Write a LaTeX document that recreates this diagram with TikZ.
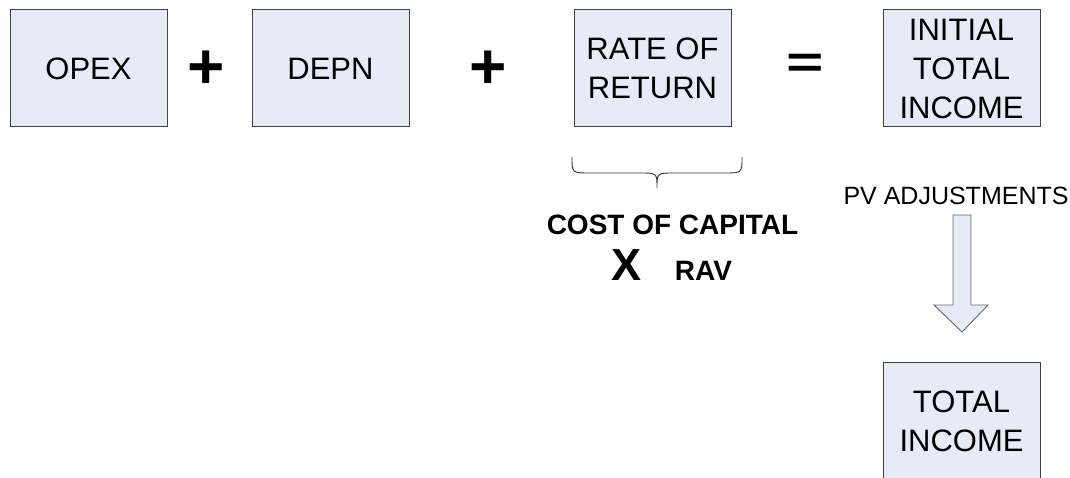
\documentclass[tikz,border=0pt]{standalone}
\usepackage{fontspec}
\setmainfont{Liberation Sans}
\begin{document}
\begin{tikzpicture}[x=1pt,y=-1pt,
  termbox/.style={draw=boxline, fill=boxfill, line width=1pt,
    minimum width=157pt, minimum height=117pt, inner sep=0pt,
    align=center, font=\fontsize{31}{39}\selectfont},
  opsign/.style={inner sep=0pt, font=\bfseries\fontsize{64}{64}\selectfont},
  caption/.style={inner sep=0pt, anchor=base}]
\definecolor{boxfill}{HTML}{E6ECF7}
\definecolor{boxline}{HTML}{404040}
\definecolor{bracecol}{HTML}{333333}
\clip (0,0) rectangle (1070,478);
\useasboundingbox (0,0) rectangle (1070,478);

% the income equation
\node[termbox] (opex) at (88.5,68.5) {OPEX};
\node[termbox] (depn) at (330.5,68.5) {DEPN};
\node[termbox] (ror)  at (652.5,68.5) {RATE OF\\RETURN};
\node[termbox] (iti)  at (961.5,68.5) {INITIAL\\TOTAL\\INCOME};
\node[termbox, minimum height=118pt] (ti) at (961.5,421) {TOTAL\\INCOME};

\node[opsign] (plusa) at (206,70) {+};
\node[opsign] (plusb) at (488,70) {+};
\node[opsign] (eq)    at (805,65.5) {\scalebox{1}[0.7]{=}};

% brace under the rate of return
\draw[bracecol, line width=0.9pt]
  (572,157) .. controls (572,173) .. (590,173) -- (640,173)
  .. controls (657,173) .. (657,188)
  .. controls (657,173) .. (674,173) -- (724,173)
  .. controls (742,173) .. (742,157);
\coordinate (bracetip) at (657,188);

\node[caption, font=\bfseries\fontsize{28}{28}\selectfont] (coc) at (672.5,235) {COST OF CAPITAL};
\node[caption, font=\bfseries\fontsize{45}{45}\selectfont] (times) at (626,280) {X};
\node[caption, font=\bfseries\fontsize{28}{28}\selectfont] (rav) at (703.5,280) {RAV};

% present value adjustment arrow
\node[caption, font=\fontsize{25}{25}\selectfont] (pv) at (956,205) {PV ADJUSTMENTS};
\draw[draw=boxline!80, fill=boxfill, line width=0.9pt]
  (953,215) -- (971,215) -- (971,305) -- (988,305) -- (962,332)
  -- (934,305) -- (953,305) -- cycle;
\end{tikzpicture}
\end{document}
